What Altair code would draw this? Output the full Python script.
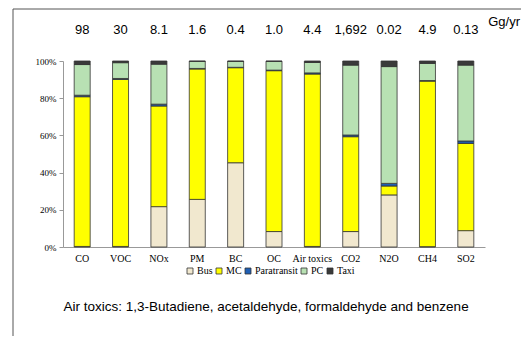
import altair as alt
import pandas as pd

pollutants = ["CO", "VOC", "NOx", "PM", "BC", "OC", "Air toxics", "CO2", "N2O", "CH4", "SO2"]
vehicles = ["Bus", "MC", "Paratransit", "PC", "Taxi"]
bus = [0.3, 0.3, 21.7, 25.6, 45.3, 8.3, 0.3, 8.3, 28.0, 0.2, 8.8]
mc = [80.5, 89.8, 54.1, 70.1, 51.1, 86.5, 92.7, 51.0, 4.8, 89.0, 46.9]
para = [0.8, 0.5, 1.0, 0.3, 0.2, 0.3, 0.6, 0.9, 1.4, 0.3, 1.3]
pc = [16.5, 8.5, 21.5, 3.8, 3.2, 4.7, 5.6, 37.6, 62.8, 9.2, 40.8]
taxi = [1.9, 0.9, 1.7, 0.2, 0.2, 0.2, 0.8, 2.2, 3.0, 1.3, 2.2]
totals = ["98", "30", "8.1", "1.6", "0.4", "1.0", "4.4", "1,692", "0.02", "4.9", "0.13"]
colors = ["#f1e8cf", "#ffff00", "#1f5fb4", "#b8e1b3", "#3a3a3a"]
unit = "Gg/yr"
note = "Air toxics: 1,3-Butadiene, acetaldehyde, formaldehyde and benzene"

series = {"Bus": bus, "MC": mc, "Paratransit": para, "PC": pc, "Taxi": taxi}
rows = []
for vi, v in enumerate(vehicles):
    for p, val in zip(pollutants, series[v]):
        rows.append({"pollutant": p, "vehicle": v, "share": val, "order": vi})
df = pd.DataFrame(rows)
tot_df = pd.DataFrame({"pollutant": pollutants, "total": totals})

serif = "Liberation Serif"
sans = "Liberation Sans"

x_enc = alt.X("pollutant:N", sort=pollutants, title=None,
              axis=alt.Axis(labelAngle=0, labelFont=serif, labelFontSize=10, labelColor="#000",
                            ticks=False, domainColor="#999", labelPadding=6),
              scale=alt.Scale(paddingInner=0, paddingOuter=0))

bars = alt.Chart(df).mark_bar(size=16, stroke="#333", strokeWidth=0.8).encode(
    x=x_enc,
    y=alt.Y("share:Q", stack="normalize", title=None,
            scale=alt.Scale(domain=[0, 1], nice=False),
            axis=alt.Axis(format=".0%", values=[0, 0.2, 0.4, 0.6, 0.8, 1.0], grid=False,
                          labelFont=serif, labelFontSize=9, labelColor="#000",
                          tickSize=4, tickColor="#999", domainColor="#999", labelPadding=3)),
    color=alt.Color("vehicle:N", sort=vehicles,
                    scale=alt.Scale(domain=vehicles, range=colors),
                    legend=alt.Legend(title=None, orient="none", legendX=122, legendY=205,
                                      direction="horizontal", labelFont=serif, labelFontSize=10,
                                      labelColor="#000", symbolType="square", symbolSize=36,
                                      symbolStrokeColor="#333", symbolStrokeWidth=0.8,
                                      columnPadding=1, labelOffset=2, gridAlign="none")),
    order=alt.Order("order:Q", sort="ascending"),
)

tot_text = alt.Chart(tot_df).mark_text(font=sans, fontSize=13, color="#000", baseline="middle").encode(
    x=alt.X("pollutant:N", sort=pollutants),
    y=alt.value(-31),
    text="total:N",
)

unit_text = alt.Chart(pd.DataFrame({"t": [unit]})).mark_text(
    font=sans, fontSize=13, color="#000", baseline="middle", align="right").encode(
    x=alt.value(457), y=alt.value(-39), text="t:N")

note_text = alt.Chart(pd.DataFrame({"t": [note]})).mark_text(
    font=sans, fontSize=13.5, color="#000", baseline="middle").encode(
    x=alt.value(203), y=alt.value(246), text="t:N")

frame_left = alt.Chart(pd.DataFrame({"a": [0]})).mark_rule(color="#555", strokeWidth=1).encode(
    x=alt.value(-50), y=alt.value(-52), y2=alt.value(275))
frame_top = alt.Chart(pd.DataFrame({"a": [0]})).mark_rule(color="#555", strokeWidth=1).encode(
    x=alt.value(-50), x2=alt.value(458), y=alt.value(-52))

chart = alt.layer(bars, tot_text, unit_text, note_text, frame_left, frame_top).properties(
    width=422, height=186, autosize="none",
    padding={"left": 55, "top": 53, "right": 36, "bottom": 89},
    background="white",
).configure_view(stroke=None)

chart.save("out.html", embed_options={"renderer": "svg", "actions": False})
